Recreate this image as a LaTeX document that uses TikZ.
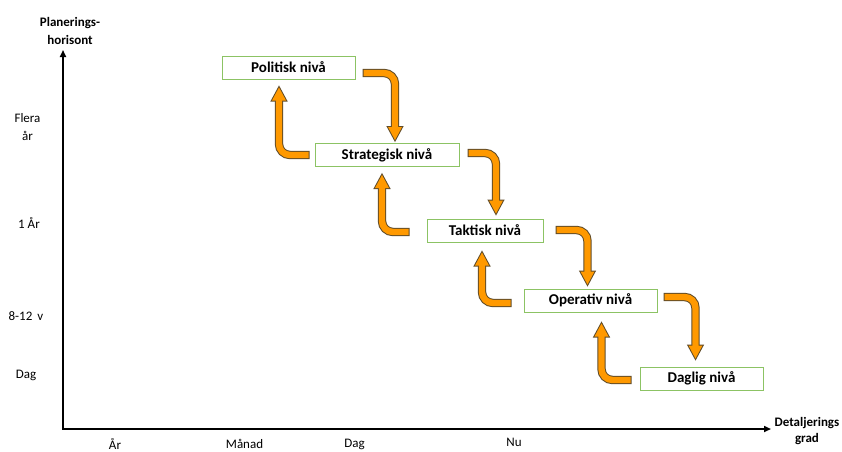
\documentclass[tikz,border=0pt]{standalone}
\usepackage{fontspec}
\setmainfont{Carlito}
\usetikzlibrary{calc,arrows.meta}
\definecolor{arrfill}{RGB}{255,153,0}
\definecolor{arrline}{RGB}{95,75,40}
\definecolor{boxgreen}{RGB}{140,195,100}
\tikzset{
  level/.style={draw=boxgreen, line width=1pt, minimum width=#1, minimum height=23pt,
    inner sep=0pt, font=\fontsize{15}{18}\selectfont\bfseries},
  lbl/.style={font=\fontsize{13}{18}\selectfont, align=center, inner sep=0pt},
  blbl/.style={lbl, font=\fontsize{13}{18}\selectfont\bfseries},
  axisline/.style={line width=1.6pt, {Triangle[length=7pt,width=6pt]}-{Triangle[length=7pt,width=6pt]}},
}
\newcommand\orarrow[3]{%
  \draw[arrline, line width=8.4pt, rounded corners=11pt, shorten >=11pt] (#1) -- (#2 |- #1) -- (#2);
  \filldraw[arrline, line width=2pt, line join=miter] ($(#2)+(-7,#3)$) -- (#2) -- ($(#2)+(7,#3)$) -- cycle;
  \draw[arrfill, line width=6.4pt, rounded corners=11pt, shorten >=11pt, shorten <=1pt] (#1) -- (#2 |- #1) -- (#2);
  \fill[arrfill] ($(#2)+(-7,#3)$) -- (#2) -- ($(#2)+(7,#3)$) -- cycle;
}
\begin{document}
\begin{tikzpicture}[x=1pt,y=-1pt]
\useasboundingbox (0,0) rectangle (842,451);
% axes
\coordinate (ytop) at (63,50);
\coordinate (orig) at (63,429);
\coordinate (xend) at (771,429);
\draw[axisline] (ytop) -- (orig) -- (xend);
\node[blbl] (ylab) at (70,31) {Planerings-\\horisont};
\node[blbl, font=\fontsize{13}{16.5}\selectfont\bfseries] (xlab) at (807,431) {Detaljerings\\grad};
% y labels
\node[lbl] (yl1) at (27.5,127) {Flera\\år};
\node[lbl] (yl2) at (29,223) {1 År};
\node[lbl] (yl3) at (26,316) {8-12\, v};
\node[lbl] (yl4) at (26,375) {Dag};
% x labels
\node[lbl] (xl1) at (115,443.5) {År};
\node[lbl] (xl2) at (244.5,443.5) {Månad};
\node[lbl] (xl3) at (354.5,444) {Dag};
\node[lbl] (xl4) at (514,442) {Nu};
% levels
\node[level=133pt] (pol) at (288.5,67.5) {Politisk nivå};
\node[level=144pt] (str) at (387,155) {Strategisk nivå};
\node[level=116pt] (tak) at (485,230.5) {Taktisk nivå};
\node[level=133pt] (ope) at (590.5,300.5) {Operativ nivå};
\node[level=123pt] (dag) at (701.5,378.5) {Daglig nivå};
% arrow end points
\coordinate (d1s) at ($(pol.east)+(7,5.5)$);
\coordinate (d1t) at ($(str.north)+(8,-3)$);
\coordinate (d2s) at ($(str.east)+(8,-2)$);
\coordinate (d2t) at ($(tak.north)+(11,-5)$);
\coordinate (d3s) at ($(tak.east)+(12,-0.5)$);
\coordinate (d3t) at ($(ope.north)+(-3,-4)$);
\coordinate (d4s) at ($(ope.east)+(6,-3.5)$);
\coordinate (d4t) at ($(dag.north)+(-6,-8)$);
\coordinate (u1s) at ($(str.west)+(-5,0)$);
\coordinate (u1t) at ($(pol.south)+(-9.5,8)$);
\coordinate (u2s) at ($(tak.west)+(-17,1.5)$);
\coordinate (u2t) at ($(str.south)+(-5,8)$);
\coordinate (u3s) at ($(ope.west)+(-12,2.5)$);
\coordinate (u3t) at ($(tak.south)+(-3,10)$);
\coordinate (u4s) at ($(dag.west)+(-8,1.5)$);
\coordinate (u4t) at ($(ope.south)+(11,11)$);
\orarrow{d1s}{d1t}{-13}
\orarrow{d2s}{d2t}{-13}
\orarrow{d3s}{d3t}{-13}
\orarrow{d4s}{d4t}{-13}
\orarrow{u1s}{u1t}{13}
\orarrow{u2s}{u2t}{13}
\orarrow{u3s}{u3t}{13}
\orarrow{u4s}{u4t}{13}
\end{tikzpicture}
\end{document}
